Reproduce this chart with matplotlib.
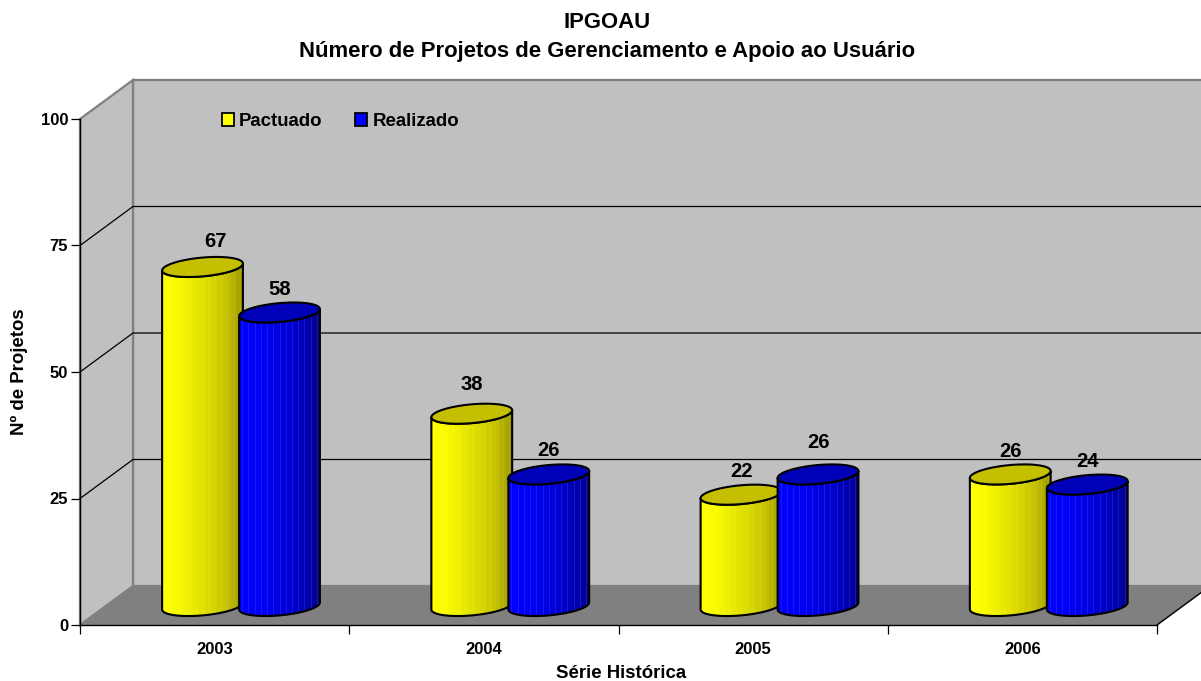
import matplotlib
matplotlib.use("Agg")
import matplotlib.pyplot as plt
import numpy as np
from matplotlib.colors import LinearSegmentedColormap
from matplotlib.patches import Patch, Polygon

plt.rcParams['font.family'] = ['Liberation Sans', 'DejaVu Sans']
plt.rcParams['font.weight'] = 'bold'

# Data
years = ["2003", "2004", "2005", "2006"]
pactuado = [67, 38, 22, 26]
realizado = [58, 26, 26, 24]
yticks = [0, 25, 50, 75, 100]

title_lines = ["IPGOAU", "Número de Projetos de Gerenciamento e Apoio ao Usuário"]
xlabel = "Série Histórica"
ylabel = "Nº de Projetos"

# label shifts in points, the original has them a bit uneven
nudge_pactuado = [(9.5, -0.7), (0, 2), (0, -2.7), (0, -3)]
nudge_realizado = [(0, 0), (0, 1), (0, 6.5), (0, 0)]

W, H = 1201, 681
px_x = 1 / 269.25   # one pixel in category units
px_y = 1 / 5.06     # one pixel in value units
depth_x = 53 * px_x
depth_y = 39 * px_y

fig = plt.figure(figsize=(W / 100, H / 100), dpi=100, facecolor="white")
ax = fig.add_axes([80 / W, (H - 625) / H, 1077 / W, 506 / H])
ax.patch.set_visible(False)

wall = "#c0c0c0"
edge = "#808080"

# Back wall, side wall, floor
top = 100 + depth_y
right = 4 + depth_x + 0.3
ax.add_patch(Polygon([(depth_x, depth_y), (right, depth_y), (right, top), (depth_x, top)],
                     fc=wall, ec=edge, lw=1.6, clip_on=False, zorder=1))
ax.add_patch(Polygon([(0, 0), (depth_x, depth_y), (depth_x, top), (0, 100)],
                     fc=wall, ec=edge, lw=1.6, clip_on=False, zorder=1))
ax.add_patch(Polygon([(0, 0), (4, 0), (4 + depth_x, depth_y), (depth_x, depth_y)],
                     fc=edge, ec=edge, lw=0.8, clip_on=False, zorder=2))
ax.plot([4, 4 + depth_x], [0, depth_y], color="black", lw=1, clip_on=False, zorder=2.5)

# Grid on both walls
for v in yticks[1:-1]:
    ax.plot([0, depth_x, right], [v, v + depth_y, v + depth_y], color="black", lw=0.9,
            clip_on=False, zorder=1.5)

yellow_cmap = LinearSegmentedColormap.from_list(
    "y", [(0, "#ffff00"), (0.15, "#fcfc00"), (0.5, "#e2e200"), (0.8, "#c8c400"), (1, "#a09c00")])
blue_cmap = LinearSegmentedColormap.from_list(
    "b", [(0, "#0000ff"), (0.3, "#0000f4"), (0.6, "#0000d8"), (0.85, "#0000b4"), (1, "#000090")])


def cylinder(left, value, cmap, cap, z):
    width = 0.30
    a = width / 2
    cx = left + a
    base = 19 * px_y
    b = 9.4 * px_y
    s = 3.5 * px_y
    t = np.linspace(np.pi, 2 * np.pi, 60)
    ax_x = cx + a * np.cos(t)
    low = b * np.sin(t) + s * np.cos(t)
    y_top = base + value

    verts = np.r_[np.c_[ax_x, y_top + low], np.c_[ax_x[::-1], base + low[::-1]]]
    ax.add_patch(Polygon(verts, closed=True, fc="none", ec="black", lw=1.5, clip_on=False, zorder=z + 0.2))

    strips = np.linspace(0, 1, 26).reshape(1, -1)
    im = ax.imshow(strips, cmap=cmap, aspect="auto", interpolation="nearest",
                   extent=(left, left + width, 0, y_top + 3), zorder=z)
    im.set_clip_path(Polygon(verts, closed=True, transform=ax.transData))

    seams = ax.vlines(np.linspace(left, left + width, 27)[1:-1:2], 0, y_top + 3,
                      color="white", lw=0.6, alpha=0.12, zorder=z + 0.1)
    seams.set_clip_path(Polygon(verts, closed=True, transform=ax.transData))

    tt = np.linspace(0, 2 * np.pi, 120)
    ax.add_patch(Polygon(np.c_[cx + a * np.cos(tt), y_top + b * np.sin(tt) + s * np.cos(tt)],
                         closed=True, fc=cap, ec="black", lw=1.5, clip_on=False, zorder=z + 0.3))
    return cx, y_top


for i, year in enumerate(years):
    z = 3 + i
    cx, y_top = cylinder(i + 0.305, pactuado[i], yellow_cmap, "#c4c000", z)
    ax.annotate(str(pactuado[i]), (cx, y_top), xytext=(nudge_pactuado[i][0], 12.5 + nudge_pactuado[i][1]),
                textcoords="offset points", ha="center", va="bottom", fontsize=14.6, zorder=9)
    cx, y_top = cylinder(i + 0.591, realizado[i], blue_cmap, "#0000b8", z + 0.5)
    ax.annotate(str(realizado[i]), (cx, y_top), xytext=(nudge_realizado[i][0], 9.5 + nudge_realizado[i][1]),
                textcoords="offset points", ha="center", va="bottom", fontsize=14.6, zorder=9)

ax.set_xlim(0, 4)
ax.set_ylim(0, 100)

# Axes
for side in ("top", "right"):
    ax.spines[side].set_visible(False)
for side in ("left", "bottom"):
    ax.spines[side].set_linewidth(1.0)
    ax.spines[side].set_zorder(8)
ax.set_yticks(yticks)
ax.set_xticks(range(len(years) + 1))
ax.set_xticklabels([])
ax.set_xticks(np.arange(len(years)) + 0.5, minor=True)
ax.set_xticklabels(years, minor=True, fontsize=12)
ax.tick_params(axis="x", which="major", length=6.5, width=0.9)
ax.tick_params(axis="x", which="minor", length=0, pad=12)
ax.tick_params(axis="y", length=6.5, width=0.9, labelsize=12, pad=2)

fig.text(607 / W, 1 - 22.5 / H, title_lines[0], ha="center", va="center", fontsize=15.9)
fig.text(607 / W, 1 - 52 / H, title_lines[1], ha="center", va="center", fontsize=15.9)
fig.text(621 / W, 1 - 673.5 / H, xlabel, ha="center", va="center", fontsize=13.4)
fig.text(19 / W, 1 - 372 / H, ylabel, ha="center", va="center", rotation=90, fontsize=13.4)

handles = [Patch(fc="#ffff00", ec="black", lw=1.3), Patch(fc="#0000ff", ec="black", lw=1.3)]
leg = ax.legend(handles, ["Pactuado", "Realizado"], ncol=2, frameon=False, fontsize=13.4,
                loc="center left", bbox_to_anchor=(142 / 1077, 0.995), handlelength=0.62, handleheight=0.62,
                handletextpad=0.3, columnspacing=1.75, borderaxespad=0, borderpad=0)
leg.set_zorder(10)

fig.savefig("out.png", dpi=100)
